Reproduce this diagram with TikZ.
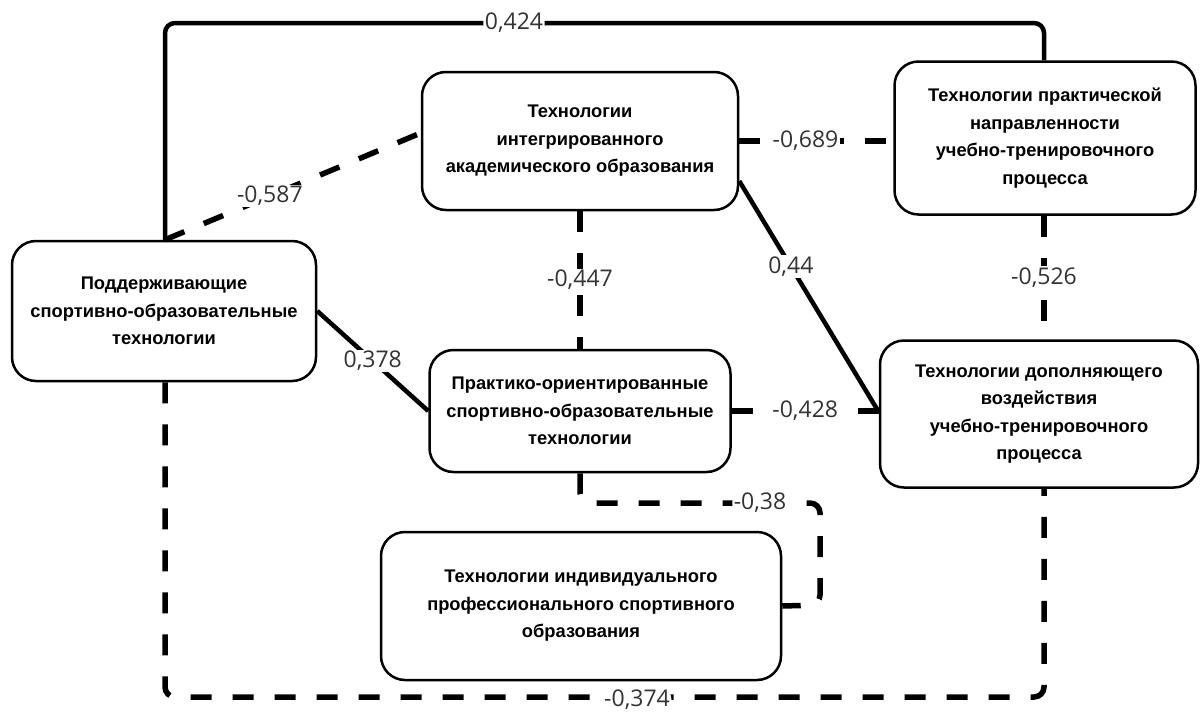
\documentclass[tikz,border=0pt]{standalone}
\usepackage{fontspec}
\setmainfont{Liberation Sans}
\newfontfamily\lblfont{Open Sans}
\begin{document}
\begin{tikzpicture}[x=1pt,y=-1pt,
  box/.style={draw, fill=white, line width=2.5pt, rounded corners=24pt, align=center,
    font=\bfseries\fontsize{18.3}{27.5}\selectfont, inner sep=0pt},
  posline/.style={line width=4.5pt},
  negline/.style={line width=5.5pt, dash pattern=on 21pt off 21pt},
  lbl/.style={fill=white, font=\lblfont\fontsize{23}{26}\selectfont, text=black!80, inner sep=1.5pt}]
\useasboundingbox (0,0) rectangle (1200,712);
% coordinates for bends
\coordinate (tl) at (165,23);
\coordinate (tr) at (1044,23);
\coordinate (k1) at (580,503);
\coordinate (k2) at (820,503);
\coordinate (k3) at (820,605);
\coordinate (b1) at (165,697);
\coordinate (b2) at (1044,697);
% boxes
\node[box, minimum width=304pt, minimum height=140pt] (A) at (164,311)
  {Поддерживающие\\спортивно-образовательные\\технологии};
\node[box, minimum width=316pt, minimum height=138pt] (B) at (580,141)
  {Технологии\\интегрированного\\академического образования};
\node[box, minimum width=301pt, minimum height=153pt] (C) at (1045,138)
  {Технологии практической\\направленности\\учебно-тренировочного\\процесса};
\node[box, minimum width=301pt, minimum height=122pt] (D) at (580,411)
  {Практико-ориентированные\\спортивно-образовательные\\технологии};
\node[box, minimum width=318pt, minimum height=147pt] (E) at (1039,414)
  {Технологии дополняющего\\воздействия\\учебно-тренировочного\\процесса};
\node[box, minimum width=400pt, minimum height=148pt] (F) at (581,606)
  {Технологии индивидуального\\профессионального спортивного\\образования};
% connectors
\draw[posline, rounded corners=10pt] (A.north -| tl) -- (tl) -- node[lbl, pos=0.397] (l1) {0,424} (tr) -- (tr |- C.north);
\draw[negline] (A.north -| tl) -- node[lbl, pos=0.41] (l2) {-0,587} ([yshift=8pt]B.west);
\draw[negline] (B.east) -- node[lbl, pos=0.43] (l3) {-0,689} (B.east -| C.west);
\draw[posline] ([yshift=-40pt]B.east) -- node[lbl, pos=0.37] (l4) {0,44} ([yshift=2pt]E.west);
\draw[negline] (B.south) -- node[lbl] (l5) {-0,447} (D.north);
\draw[negline] (C.south -| tr) -- node[lbl] (l6) {-0,526} (tr |- E.north);
\draw[posline] (A.east) -- node[lbl, pos=0.5] (l7) {0,378} (D.west);
\draw[negline] (D.east) -- node[lbl, pos=0.5] (l8) {-0,428} (D.east -| E.west);
\draw[negline, rounded corners=10pt] (D.south) -- (k1) -- node[lbl, pos=0.75] (l9) {-0,38} (k2) -- (k3) -- (F.east);
\draw[negline, rounded corners=10pt] (A.south -| b1) -- (b1) -- node[lbl, pos=0.537, yshift=-3pt] (l10) {-0,374} (b2) -- (b2 |- E.south);
\end{tikzpicture}
\end{document}
